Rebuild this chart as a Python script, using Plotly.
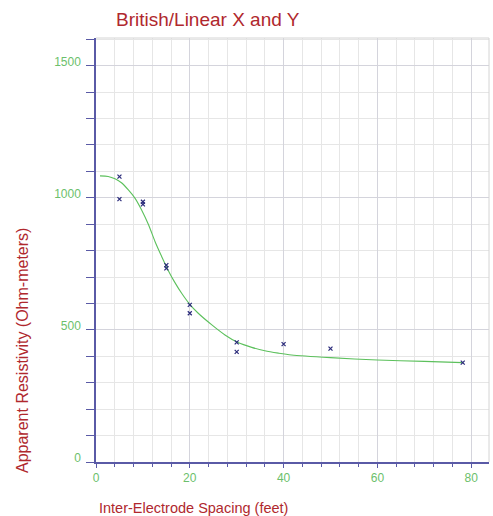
import plotly.graph_objects as go

# Measured data points
spacing_ft = [5, 5, 10, 10, 15, 15, 20, 20, 30, 30, 40, 50, 78.2]
resistivity = [1080, 995, 985, 975, 745, 733, 595, 563, 453, 417, 446, 429, 376]

# Fitted curve
curve_x = [0.85, 2.6, 4.05, 5.5, 6.9, 8.3, 9.7, 11.2, 12.6, 14.0, 15.4, 16.8, 18.3, 20,
           21.8, 24.7, 27.5, 30.3, 33.2, 36, 38.9, 41.7, 50, 60, 70, 78.2]
curve_y = [1083, 1081, 1072, 1056, 1030, 999, 955, 898, 834, 778, 725, 680, 638, 597,
           563, 519, 481, 452, 434, 421, 412, 405, 395, 386, 381, 376]

x_ticks = [0, 20, 40, 60, 80]
y_ticks = [0, 500, 1000, 1500]

W, H = 493, 516
ML, MR, MT, MB = 96, 4, 38, 54
pw, ph = W - ML - MR, H - MT - MB

axis_col = "#5a5aa6"
tick_col = "#6cbf6c"
title_col = "#b0282e"
font = "Liberation Sans, Arial, sans-serif"

fig = go.Figure()
fig.add_trace(go.Scatter(x=curve_x, y=curve_y, mode="lines",
                         line=dict(color="#5cc05c", width=1.1, shape="spline", smoothing=0.8),
                         hoverinfo="skip", showlegend=False))
fig.add_trace(go.Scatter(x=spacing_ft, y=resistivity, mode="markers",
                         marker=dict(symbol="x-thin", size=4, color="#2a2a7a",
                                     line=dict(width=1.2, color="#2a2a7a")),
                         showlegend=False))

fig.update_layout(
    width=W, height=H,
    margin=dict(l=ML, r=MR, t=MT, b=MB, autoexpand=False),
    paper_bgcolor="white", plot_bgcolor="white",
    font=dict(family=font, size=12, color=tick_col),
    showlegend=False,
    xaxis=dict(range=[0, 83.8], tickvals=x_ticks, ticktext=[str(v) for v in x_ticks],
               showgrid=True, gridcolor="#d4d4dc", gridwidth=1,
               minor=dict(dtick=4, showgrid=True, gridcolor="#e6e6e6", gridwidth=1,
                          ticks="outside", ticklen=3, tickcolor=axis_col),
               ticks="outside", ticklen=4, tickcolor=axis_col,
               showline=True, linecolor=axis_col, linewidth=1.5,
               mirror=False, zeroline=False,
               tickfont=dict(size=12, color=tick_col, family=font),
               ticklabelstandoff=0),
    yaxis=dict(range=[0, 1605], tickvals=y_ticks, ticktext=[str(v) for v in y_ticks],
               showgrid=True, gridcolor="#d4d4dc", gridwidth=1,
               minor=dict(dtick=100, showgrid=True, gridcolor="#e6e6e6", gridwidth=1,
                          ticks="outside", ticklen=8, tickcolor=axis_col),
               ticks="outside", ticklen=8, tickcolor=axis_col,
               showline=True, linecolor=axis_col, linewidth=1.5,
               zeroline=False,
               tickfont=dict(size=12, color=tick_col, family=font),
               ticklabelstandoff=3, ticklabelshift=-4),
    shapes=[
        dict(type="line", xref="paper", yref="paper", x0=0, x1=1, y0=1, y1=1,
             line=dict(color="#d4d4d4", width=1)),
        dict(type="line", xref="paper", yref="paper", x0=1, x1=1, y0=0, y1=1,
             line=dict(color="#d4d4d4", width=1)),
    ],
    annotations=[
        dict(text="British/Linear X and Y", xref="paper", yref="paper",
             x=(208 - ML) / pw, y=(H - MB - 20) / ph, xanchor="center", yanchor="middle",
             showarrow=False, font=dict(size=19, color=title_col, family=font)),
        dict(text="Inter-Electrode Spacing (feet)", xref="paper", yref="paper",
             x=(193 - ML) / pw, y=(H - MB - 508) / ph, xanchor="center", yanchor="middle",
             showarrow=False, font=dict(size=14.5, color=title_col, family=font)),
        dict(text="Apparent Resistivity (Ohm-meters)", xref="paper", yref="paper",
             x=(22 - ML) / pw, y=(H - MB - 351) / ph, xanchor="center", yanchor="middle",
             textangle=-90,
             showarrow=False, font=dict(size=16, color=title_col, family=font)),
    ],
)

fig.write_html("out.html", config={"displayModeBar": False},
               post_script="document.body.style.margin='0';document.body.style.overflow='hidden';")
